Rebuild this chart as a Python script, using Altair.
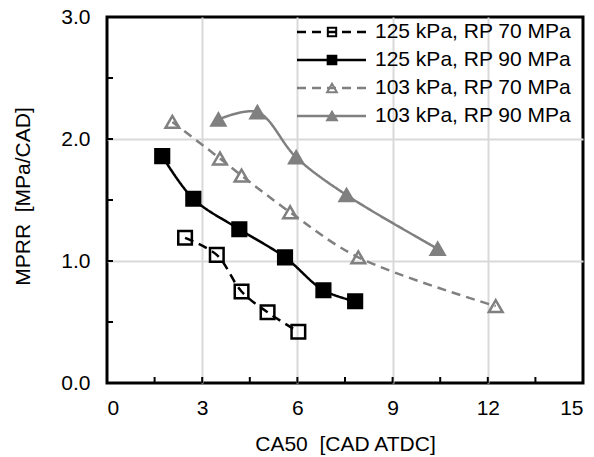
import altair as alt
import pandas as pd

# Series labels and measured points (CA50 [CAD ATDC], MPRR [MPa/CAD])
series_names = [
    "125 kPa, RP 70 MPa",
    "125 kPa, RP 90 MPa",
    "103 kPa, RP 70 MPa",
    "103 kPa, RP 90 MPa",
]

ca50_125_70 = [2.46, 3.46, 4.24, 5.06, 6.03]
mprr_125_70 = [1.19, 1.05, 0.75, 0.58, 0.42]

ca50_125_90 = [1.74, 2.72, 4.17, 5.61, 6.82, 7.82]
mprr_125_90 = [1.86, 1.51, 1.26, 1.03, 0.76, 0.67]

ca50_103_70 = [2.06, 3.56, 4.24, 5.77, 7.92, 12.25]
mprr_103_70 = [2.14, 1.84, 1.70, 1.40, 1.03, 0.63]

ca50_103_90 = [3.51, 4.74, 5.96, 7.55, 10.42]
mprr_103_90 = [2.16, 2.22, 1.85, 1.54, 1.10]

# Axis ticks
x_major = [0, 3, 6, 9, 12, 15]
y_major = [0.0, 1.0, 2.0, 3.0]
x_minor = [1.5, 3, 4.5, 6, 7.5, 9, 10.5, 12, 13.5]
y_minor = [0.5, 1.0, 1.5, 2.0, 2.5]

FONT = "Liberation Sans"
FS = 21
GRID = "#d9d9d9"
GRAY = "#808080"
W, H = 476, 366
NBSP2 = "\u00a0\u00a0"

rows = []
for name, xs, ys in zip(
    series_names,
    [ca50_125_70, ca50_125_90, ca50_103_70, ca50_103_90],
    [mprr_125_70, mprr_125_90, mprr_103_70, mprr_103_90],
):
    for xv, yv in zip(xs, ys):
        rows.append({"series": name, "ca50": xv, "mprr": yv})
data = pd.DataFrame(rows)

colors = ["#000000", "#000000", GRAY, GRAY]
dashes = [[9, 6], [1, 0], [9, 6], [1, 0]]
shapes = ["square", "square", "triangle-up", "triangle-up"]
fills = ["transparent", "#000000", "transparent", GRAY]

color_scale = alt.Scale(domain=series_names, range=colors)
dash_scale = alt.Scale(domain=series_names, range=dashes)
shape_scale = alt.Scale(domain=series_names, range=shapes)
fill_scale = alt.Scale(domain=series_names, range=fills)
size_scale = alt.Scale(domain=series_names, range=[185, 190, 310, 310])

x_scale = alt.Scale(domain=[0, 15], nice=False, zero=False)
y_scale = alt.Scale(domain=[0, 3], nice=False)

x_axis = alt.Axis(
    values=x_major,
    title="CA50" + NBSP2 + "[CAD ATDC]",
    labelPadding=14,
    titleX=W / 2,
    titleY=61,
    titleBaseline="middle",
    gridColor={"condition": {"test": "datum.value > 0 && datum.value < 15", "value": GRID},
               "value": "transparent"},
)
y_axis = alt.Axis(
    values=y_major,
    format=".1f",
    title="MPRR" + NBSP2 + "[MPa/CAD]",
    labelPadding=17,
    titleX=-84,
    titleY=179,
    titleAlign="center",
    titleBaseline="middle",
    gridColor={"condition": {"test": "datum.value > 0 && datum.value < 3", "value": GRID},
               "value": "transparent"},
)

base = alt.Chart(data)

lines = base.mark_line(interpolate="catmull-rom", strokeWidth=2.5).encode(
    x=alt.X("ca50:Q", scale=x_scale, axis=x_axis),
    y=alt.Y("mprr:Q", scale=y_scale, axis=y_axis),
    color=alt.Color("series:N", scale=color_scale, legend=None),
    strokeDash=alt.StrokeDash("series:N", scale=dash_scale, legend=None),
    detail="series:N",
)

points = base.mark_point(opacity=1, strokeWidth=2.5).encode(
    x="ca50:Q",
    y="mprr:Q",
    shape=alt.Shape("series:N", scale=shape_scale, legend=None),
    stroke=alt.Stroke("series:N", scale=color_scale, legend=None),
    fill=alt.Fill("series:N", scale=fill_scale, legend=None),
    size=alt.Size("series:N", scale=size_scale, legend=None),
)

# Inward tick marks along the bottom and left frame
xticks = alt.Chart(pd.DataFrame({"t": x_minor})).mark_rule(color="black", strokeWidth=2).encode(
    x="t:Q", y=alt.value(H - 6), y2=alt.value(H)
)
yticks = alt.Chart(pd.DataFrame({"t": y_minor})).mark_rule(color="black", strokeWidth=2).encode(
    y="t:Q", x=alt.value(0), x2=alt.value(6)
)

# Legend drawn inside the plot, top right
LEG_Y0, LEG_DY = 15, 28
LEG_X1, LEG_X2, LEG_XM, LEG_XT = 190, 259, 225, 268
leg_sizes = [70, 75, 95, 95]
legend_layers = []
for i, name in enumerate(series_names):
    one = alt.Chart(pd.DataFrame({"label": [name]}))
    ly = LEG_Y0 + LEG_DY * i
    legend_layers.append(
        one.mark_rule(color=colors[i], strokeWidth=2.5, strokeDash=dashes[i]).encode(
            x=alt.value(LEG_X1), x2=alt.value(LEG_X2), y=alt.value(ly)
        )
    )
    legend_layers.append(
        one.mark_point(
            shape=shapes[i], size=leg_sizes[i], opacity=1, strokeWidth=2,
            stroke=colors[i], fill=fills[i],
        ).encode(x=alt.value(LEG_XM), y=alt.value(ly))
    )
    legend_layers.append(
        one.mark_text(
            align="left", baseline="middle", font=FONT, fontSize=FS, color="black"
        ).encode(x=alt.value(LEG_XT), y=alt.value(ly), text="label:N")
    )

chart = (
    alt.layer(xticks, yticks, lines, points, *legend_layers)
    .properties(
        width=W,
        height=H,
        autosize=alt.AutoSizeParams(type="none"),
        padding={"left": 107, "top": 17, "right": 11, "bottom": 74},
        background="white",
    )
    .configure_view(stroke="black", strokeWidth=3)
    .configure_axis(
        domain=False,
        ticks=False,
        grid=True,
        gridWidth=2,
        labelFont=FONT,
        labelFontSize=FS,
        labelColor="black",
        titleFont=FONT,
        titleFontSize=FS,
        titleColor="black",
        titleFontWeight="normal",
    )
)

chart.save("out.html", embed_options={"renderer": "svg", "actions": False})
